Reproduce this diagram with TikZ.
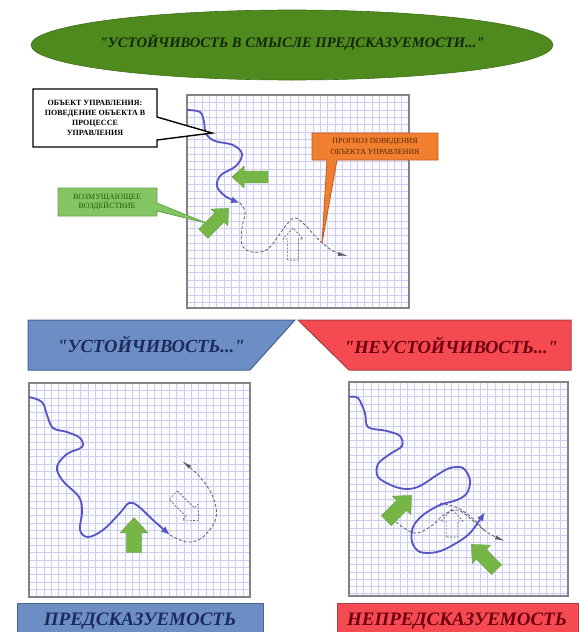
\documentclass[tikz,border=0pt]{standalone}
\usepackage{fontspec}
\setmainfont{Liberation Serif}[Ligatures=TeXOff]
\usetikzlibrary{arrows.meta,shapes.geometric}

\definecolor{elgreen}{RGB}{78,138,30}
\definecolor{elgreenD}{RGB}{62,112,24}
\definecolor{eltext}{RGB}{18,40,8}
\definecolor{gridc}{RGB}{205,205,238}
\definecolor{gridbg}{RGB}{250,250,255}
\definecolor{gridborder}{RGB}{130,130,135}
\definecolor{curveblue}{RGB}{85,85,195}
\definecolor{ggreen}{RGB}{118,182,70}
\definecolor{bannerblue}{RGB}{108,142,196}
\definecolor{bannerblueD}{RGB}{72,100,145}
\definecolor{bannerred}{RGB}{246,74,82}
\definecolor{bannerredD}{RGB}{165,60,70}
\definecolor{bluetext}{RGB}{28,42,92}
\definecolor{redtext}{RGB}{110,0,15}
\definecolor{orangeF}{RGB}{240,128,48}
\definecolor{orangeD}{RGB}{190,92,30}
\definecolor{orangeT}{RGB}{90,35,0}
\definecolor{calgreen}{RGB}{132,196,98}
\definecolor{calgreenD}{RGB}{100,165,70}
\definecolor{calgreenT}{RGB}{40,90,20}
\definecolor{dashc}{RGB}{95,95,100}

\newcommand{\mygridbox}[5]{%
  \fill[gridbg] (#1,#2) rectangle (#3,#4);
  \begin{scope}
    \clip (#1,#2) rectangle (#3,#4);
    \foreach \gi in {1,...,31} {
      \draw[gridline] ({#1+\gi*#5},#2) -- ({#1+\gi*#5},#4);
      \draw[gridline] (#1,{#2+\gi*#5}) -- (#3,{#2+\gi*#5});
    }
  \end{scope}
  \draw[gridframe] (#1,#2) rectangle (#3,#4);
}
% block arrow: style, cx, cy, angle, length, width
\newcommand{\blkarrow}[6]{%
  \begin{scope}[shift={(#2,#3)},rotate=#4]
    \pgfmathsetmacro\bL{#5/2}%
    \pgfmathsetmacro\bW{#6/2}%
    \pgfmathsetmacro\bS{#6*0.27}%
    \pgfmathsetmacro\bH{#5/2-#6*0.55}%
    \draw[#1] (-\bL,-\bS) -- (\bH,-\bS) -- (\bH,-\bW) -- (\bL,0) -- (\bH,\bW) -- (\bH,\bS) -- (-\bL,\bS) -- cycle;
  \end{scope}}

\begin{document}
\begin{tikzpicture}[x=1pt,y=-1pt,
  gridline/.style={draw=gridc,line width=0.45pt},
  gridframe/.style={draw=gridborder,line width=1.3pt},
  bluecurve/.style={draw=curveblue,line width=1.8pt,-{Latex[length=9pt,width=7pt]}},
  predcurve/.style={draw=dashc,line width=0.8pt,dash pattern=on 3pt off 2pt,-{Latex[length=10pt,width=4pt]}},
  greenarrow/.style={fill=ggreen,draw=ggreen!85!black,line width=0.3pt,line join=miter},
  hollowarrow/.style={draw=dashc,line width=0.6pt,dash pattern=on 2pt off 1.5pt},
  titletext/.style={font=\fontsize{14.6}{16}\selectfont\bfseries\itshape,text=eltext,inner sep=0pt},
  bannertext/.style={font=\fontsize{18.5}{20}\selectfont\bfseries\itshape,inner sep=0pt},
  labeltext/.style={font=\fontsize{19}{21}\selectfont\bfseries\itshape,inner sep=0pt},
  smalltext/.style={align=center,inner sep=0pt}
]
\useasboundingbox (0,0) rectangle (581,632);

% ---------- title ellipse ----------
\node[ellipse,fill=elgreen,draw=elgreenD,line width=0.6pt,minimum width=522pt,minimum height=70pt,inner sep=0pt] (title) at (292,45) {};
\node[titletext] (titletxt) at (292,43) {"УСТОЙЧИВОСТЬ В СМЫСЛЕ ПРЕДСКАЗУЕМОСТИ..."};

% ---------- grids ----------
\mygridbox{187}{95}{409}{308}{7.4}
\mygridbox{29}{383}{250}{597}{7.37}
\mygridbox{349}{382}{568}{596}{7.3}

% ---------- top grid content ----------
\draw[predcurve] plot[smooth,tension=0.6] coordinates {(240,203) (245,212) (242,228) (242,245) (252,252) (268,249) (284,228) (294,218) (304,224) (318,239) (333,251) (348,256)};
\blkarrow{hollowarrow}{293}{244}{90}{32}{20}
\draw[bluecurve] plot[smooth,tension=0.6] coordinates {(187,110) (200,112) (204,122) (206,134) (215,141) (233,145) (242,154) (236,166) (221,175) (217,186) (225,196) (240,203)};
\blkarrow{greenarrow}{250}{177}{180}{36}{22}
\blkarrow{greenarrow}{216}{221}{45}{36}{24}

% callout: object of control
\draw[black,line width=1.4pt,fill=white,line join=miter]
  (33,89) -- (157,89) -- (157,117) -- (212,133) -- (157,140) -- (157,147) -- (33,147) -- cycle;
\node[smalltext,font=\fontsize{8}{10}\selectfont\bfseries] (objtxt) at (95,118)
  {ОБЪЕКТ УПРАВЛЕНИЯ:\\ПОВЕДЕНИЕ ОБЪЕКТА В\\ПРОЦЕССЕ\\УПРАВЛЕНИЯ};

% callout: disturbance
\draw[calgreenD,line width=0.8pt,fill=calgreen,line join=miter]
  (58,188) -- (157,188) -- (157,203) -- (206,223) -- (157,211) -- (157,216) -- (58,216) -- cycle;
\node[smalltext,font=\fontsize{8}{9.5}\selectfont,text=calgreenT] (disttxt) at (107,202)
  {ВОЗМУЩАЮЩЕЕ\\ВОЗДЕЙСТВИЕ};

% callout: forecast
\draw[orangeD,line width=0.8pt,fill=orangeF,line join=miter]
  (312,133) -- (438,133) -- (438,160) -- (337,160) -- (322,243) -- (327,160) -- (312,160) -- cycle;
\node[smalltext,font=\fontsize{7.8}{11}\selectfont,text=orangeT] (fctxt) at (375,146.5)
  {ПРОГНОЗ ПОВЕДЕНИЯ\\ОБЪЕКТА УПРАВЛЕНИЯ};

% ---------- banners ----------
\draw[fill=bannerblue,draw=bannerblueD,line width=1pt] (28,320) -- (295,320) -- (250,370) -- (28,370) -- cycle;
\node[bannertext,text=bluetext] (stab) at (151,344) {"УСТОЙЧИВОСТЬ..."};
\draw[fill=bannerred,draw=bannerredD,line width=1pt] (298,320) -- (571,320) -- (571,370) -- (349,370) -- cycle;
\node[bannertext,text=redtext] (unstab) at (451,345) {"НЕУСТОЙЧИВОСТЬ..."};

% ---------- bottom-left grid content ----------
\draw[predcurve] plot[smooth,tension=0.6] coordinates {(170,535) (187,542) (203,537) (216,518) (213,497) (200,477) (182,461)};
\blkarrow{hollowarrow}{186}{508}{-45}{36}{22}
\draw[bluecurve] plot[smooth,tension=0.6] coordinates {(29,397) (42,402) (47,415) (53,428) (67,432) (80,438) (82,447) (67,454) (57,467) (63,481) (79,497) (82,512) (80,530) (88,537) (103,530) (120,513) (129,503) (138,506) (153,520) (170,535)};
\blkarrow{greenarrow}{134}{535}{90}{35}{28}

% ---------- bottom-right grid content ----------
\draw[predcurve] plot[smooth,tension=0.6] coordinates {(396,522) (414,533) (430,527) (445,514) (458,510) (472,520) (488,533) (505,541)};
\draw[dashc,line width=0.8pt,dash pattern=on 3pt off 2pt] plot[smooth,tension=0.6] coordinates {(440,503) (458,508) (472,518) (484,530)};
\blkarrow{hollowarrow}{452}{523}{90}{28}{22}
\draw[bluecurve] plot[smooth,tension=0.55] coordinates {(349,397) (358,398) (365,413) (368,427) (387,431) (400,436) (402,446) (390,454) (378,464) (378,477) (393,486) (407,489) (420,486) (437,475) (450,468) (463,468) (470,480) (467,493) (457,500) (440,505) (423,515) (413,527) (412,542) (420,552) (437,552) (453,545) (470,533) (485,512)};
\blkarrow{greenarrow}{399}{508}{45}{36}{26}
\blkarrow{greenarrow}{484}{557}{135}{36}{26}

% ---------- bottom labels ----------
\draw[fill=bannerblue,draw=bannerblueD,line width=1pt] (17,603) rectangle (263,645);
\node[labeltext,text=bluetext] (pred) at (140,621) {ПРЕДСКАЗУЕМОСТЬ};
\draw[fill=bannerred,draw=bannerredD,line width=1pt] (337,603) rectangle (578,645);
\node[labeltext,text=redtext] (unpred) at (457,621) {НЕПРЕДСКАЗУЕМОСТЬ};
\end{tikzpicture}
\end{document}
